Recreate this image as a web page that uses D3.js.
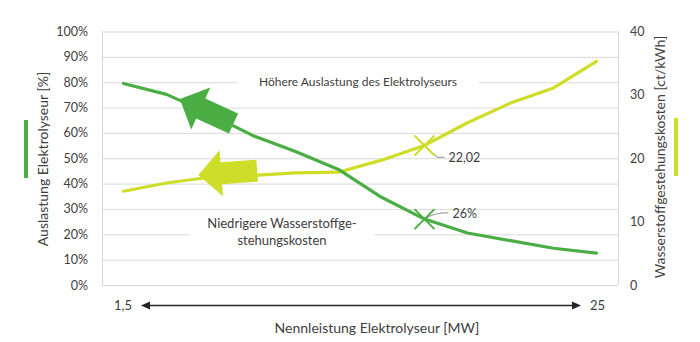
<!DOCTYPE html>
<html>
<head>
<meta charset="utf-8">
<script src="https://cdn.jsdelivr.net/npm/d3@7"></script>
<style>
  html, body { margin: 0; padding: 0; background: #fff; }
  svg { display: block; font-family: Lato, "Open Sans", sans-serif; }
</style>
</head>
<body>
<svg id="chart" width="700" height="342"></svg>
<script>
// Ausbaustufen der Elektrolyse (1,5 MW ... 25 MW), gleichmäßig auf der Kategorieachse
const stages = ["1,5", "S2", "S3", "S4", "S5", "S6", "S7", "S8", "S9", "S10", "S11", "25"];
// Auslastung des Elektrolyseurs (Anteil)
const auslastung = [0.795, 0.752, 0.675, 0.59, 0.527, 0.456, 0.346, 0.26, 0.205, 0.175, 0.145, 0.126];
// Wasserstoffgestehungskosten in ct/kWh
const kosten = [14.8, 16.1, 17.0, 17.3, 17.7, 17.8, 19.7, 22.02, 25.6, 28.7, 31.1, 35.3];
const leftTicks = [0, 0.1, 0.2, 0.3, 0.4, 0.5, 0.6, 0.7, 0.8, 0.9, 1.0];
const rightTicks = [0, 10, 20, 30, 40];
const xEndLabels = ["1,5", "25"];
const markedIndex = 7;

const GREEN = "#4aae44";
const YELLOW = "#cedd27";
const TEXT = "#404040";
const GRID = "#d9d9d9";

const svg = d3.select("#chart");
const plot = { left: 102, right: 618, top: 31.5, bottom: 285 };

const x = d3.scalePoint().domain(d3.range(stages.length)).range([plot.left, plot.right]).padding(0.5);
const step = x.step();
const xf = i => x(0) + i * step; // fractional category position
const yL = d3.scaleLinear().domain([0, 1]).range([plot.bottom, plot.top]);
const yR = d3.scaleLinear().domain([0, 40]).range([plot.bottom, plot.top]);

// Gitternetz und Rahmen
svg.append("g").selectAll("line").data(leftTicks).join("line")
  .attr("x1", plot.left).attr("x2", plot.right)
  .attr("y1", d => yL(d) + 0.5).attr("y2", d => yL(d) + 0.5)
  .attr("stroke", GRID).attr("stroke-width", 1);
svg.append("line").attr("x1", plot.left + 0.5).attr("x2", plot.left + 0.5)
  .attr("y1", plot.top).attr("y2", plot.bottom).attr("stroke", GRID);
svg.append("line").attr("x1", plot.right + 0.5).attr("x2", plot.right + 0.5)
  .attr("y1", plot.top).attr("y2", plot.bottom).attr("stroke", GRID);

// Achsen
const axL = svg.append("g").attr("transform", `translate(${plot.left - 14},0)`)
  .call(d3.axisLeft(yL).tickValues(leftTicks).tickFormat(d3.format(".0%")).tickSize(0).tickPadding(0));
const axR = svg.append("g").attr("transform", `translate(${plot.right + 12},0)`)
  .call(d3.axisRight(yR).tickValues(rightTicks).tickSize(0).tickPadding(0));
[axL, axR].forEach(a => {
  a.select(".domain").remove();
  a.selectAll("text").attr("fill", TEXT).style("font-size", "12.5px").style("font-family", "Lato, sans-serif");
});

// Textfelder (weiß hinterlegt, unterbrechen die Gitterlinien)
const notes = [
  { lines: ["Höhere Auslastung des Elektrolyseurs"], cx: 358, cy: 81, w: 242, h: 18, size: 12 },
  { lines: ["Niedrigere Wasserstoffge-", "stehungskosten"], cx: 282, cy: 232, w: 184, h: 40, size: 13 }
];
notes.forEach(n => {
  svg.append("rect").attr("x", n.cx - n.w / 2).attr("y", n.cy - n.h / 2)
    .attr("width", n.w).attr("height", n.h).attr("fill", "#fff");
  const t = svg.append("text").attr("text-anchor", "middle").attr("fill", TEXT)
    .style("font-size", n.size + "px");
  n.lines.forEach((l, k) => {
    t.append("tspan").attr("x", n.cx)
      .attr("y", n.cy + 4.5 + (k - (n.lines.length - 1) / 2) * 16.7).text(l);
  });
});

// Linien
const lineL = d3.line().x((d, i) => x(i)).y(d => yL(d));
const lineR = d3.line().x((d, i) => x(i)).y(d => yR(d));
svg.append("path").attr("d", lineR(kosten)).attr("fill", "none")
  .attr("stroke", YELLOW).attr("stroke-width", 3.2).attr("stroke-linejoin", "round").attr("stroke-linecap", "round");
svg.append("path").attr("d", lineL(auslastung)).attr("fill", "none")
  .attr("stroke", GREEN).attr("stroke-width", 3.2).attr("stroke-linejoin", "round").attr("stroke-linecap", "round");

// Blockpfeile entlang der Kurven
const arrows = [
  { at: 1.31, y: yL(0.734), angle: 204.5, color: GREEN },
  { at: 1.74, y: yR(17.36), angle: 175.8, color: YELLOW }
];
const arrowShape = [[0, 0], [23, -23], [23, -11], [59, -11], [59, 11], [23, 11], [23, 23]];
arrows.forEach(a => {
  const tx = xf(a.at), ty = a.y;
  const r = a.angle * Math.PI / 180;
  // Pfeilspitze zeigt in Richtung angle; Form läuft rückwärts
  const ux = -Math.cos(r), uy = -Math.sin(r);
  const vx = -uy, vy = ux;
  const pts = arrowShape.map(([u, v]) => [tx + u * ux + v * vx, ty + u * uy + v * vy]);
  svg.append("path").attr("d", d3.line()(pts) + "Z").attr("fill", a.color);
});

// Markierungen bei der gewählten Ausbaustufe
const marks = [
  { y: yR(kosten[markedIndex]), color: YELLOW, label: d3.format(".2f")(kosten[markedIndex]).replace(".", ","),
    leader: (mx, my) => `M${mx + 2},${my + 2} L${mx + 13},${my + 12} L${mx + 20},${my + 12}`, lx: 24, ly: 12 },
  { y: yL(auslastung[markedIndex]), color: GREEN, label: d3.format(".0%")(auslastung[markedIndex]),
    leader: (mx, my) => `M${mx + 2},${my - 1} Q${mx + 8},${my - 6} ${mx + 24},${my - 6.5}`, lx: 28, ly: -5.5 }
];
marks.forEach(m => {
  const mx = x(markedIndex), my = m.y, s = 10;
  svg.append("path").attr("d", m.leader(mx, my)).attr("fill", "none")
    .attr("stroke", "#a6a6a6").attr("stroke-width", 1.2);
  svg.append("path")
    .attr("d", `M${mx - s},${my - s} L${mx + s},${my + s} M${mx - s},${my + s} L${mx + s},${my - s}`)
    .attr("stroke", m.color).attr("stroke-width", 2).attr("fill", "none");
  svg.append("text").attr("x", mx + m.lx).attr("y", my + m.ly + 4.5).attr("fill", TEXT)
    .style("font-size", "12.5px").text(m.label);
});

// Achsentitel
svg.append("text").attr("transform", `translate(48,159) rotate(-90)`).attr("text-anchor", "middle")
  .attr("fill", TEXT).style("font-size", "14px").text("Auslastung Elektrolyseur [%]");
svg.append("text").attr("transform", `translate(665,157) rotate(-90)`).attr("text-anchor", "middle")
  .attr("fill", TEXT).style("font-size", "14px").text("Wasserstoffgestehungskosten [ct/kWh]");
svg.append("text").attr("x", 377).attr("y", 333).attr("text-anchor", "middle")
  .attr("fill", TEXT).style("font-size", "14px").text("Nennleistung Elektrolyseur [MW]");

// Legendenbalken neben den Achsentiteln
svg.append("rect").attr("x", 24).attr("y", 120).attr("width", 4).attr("height", 58).attr("fill", GREEN);
svg.append("rect").attr("x", 674).attr("y", 118).attr("width", 4).attr("height", 58).attr("fill", YELLOW);

// Doppelpfeil der Nennleistung
const ay = 305.5, ax1 = 141, ax2 = 581;
svg.append("line").attr("x1", ax1 + 6).attr("x2", ax2 - 6).attr("y1", ay).attr("y2", ay)
  .attr("stroke", "#262626").attr("stroke-width", 1.5);
svg.append("path").attr("d", `M${ax1},${ay} L${ax1 + 9},${ay - 4} L${ax1 + 9},${ay + 4}Z`).attr("fill", "#262626");
svg.append("path").attr("d", `M${ax2},${ay} L${ax2 - 9},${ay - 4} L${ax2 - 9},${ay + 4}Z`).attr("fill", "#262626");
svg.append("text").attr("x", 132).attr("y", ay + 4.5).attr("text-anchor", "end")
  .attr("fill", TEXT).style("font-size", "13px").text(xEndLabels[0]);
svg.append("text").attr("x", 590).attr("y", ay + 4.5).attr("text-anchor", "start")
  .attr("fill", TEXT).style("font-size", "13px").text(xEndLabels[1]);
</script>
</body>
</html>
